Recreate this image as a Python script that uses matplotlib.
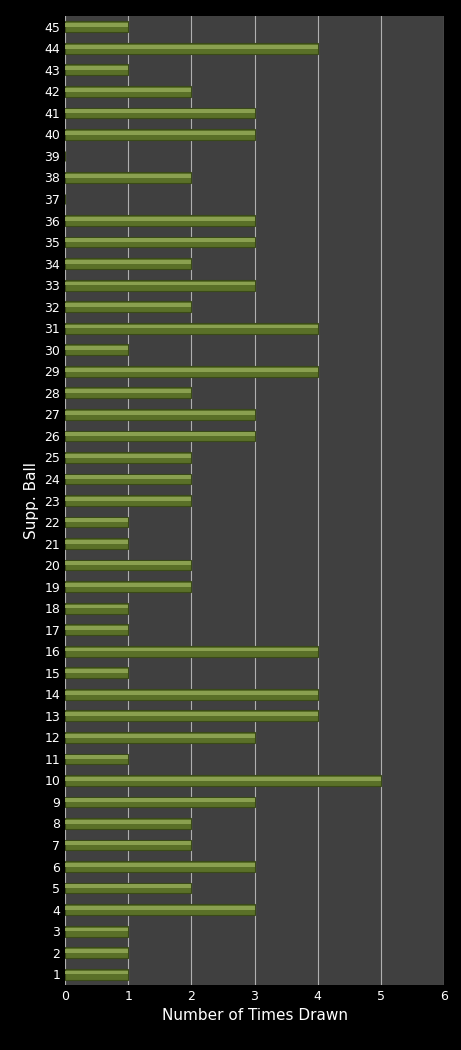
import matplotlib.pyplot as plt
import numpy as np

balls = list(range(1, 46))
times_drawn = [1, 1, 1, 3, 2, 3, 2, 2, 3, 5,
               1, 3, 4, 4, 1, 4, 1, 1, 2, 2,
               1, 1, 2, 2, 2, 3, 3, 2, 4, 1,
               4, 2, 3, 2, 3, 3, 0, 2, 0, 3,
               3, 2, 1, 4, 1]

fig = plt.figure(figsize=(4.61, 10.5), dpi=100, facecolor='black')
ax = fig.add_axes([65 / 461, 1 - 985 / 1050, (444 - 65) / 461, (985 - 16) / 1050])
ax.set_facecolor('#404040')

y = np.array(balls)
# main bar plus a lighter highlight strip on top to fake the gradient
ax.barh(y, times_drawn, height=0.5, color='#5a7028', edgecolor='#3a4a18', linewidth=0.8, zorder=3)
ax.barh(y + 0.08, times_drawn, height=0.18, color='#8aa050', linewidth=0, zorder=4)

ax.set_xlim(0, 6)
ax.set_ylim(0.5, 45.5)
ax.set_xticks(range(7))
ax.set_yticks(balls)
ax.grid(axis='x', color='#b0b0b0', linewidth=0.8, zorder=1)
for s in ax.spines.values():
    s.set_visible(False)
ax.tick_params(colors='white', labelsize=9, length=0)
ax.set_xlabel('Number of Times Drawn', color='white', fontsize=11)
ax.set_ylabel('Supp. Ball', color='white', fontsize=11)

fig.savefig('out.png', facecolor='black')
